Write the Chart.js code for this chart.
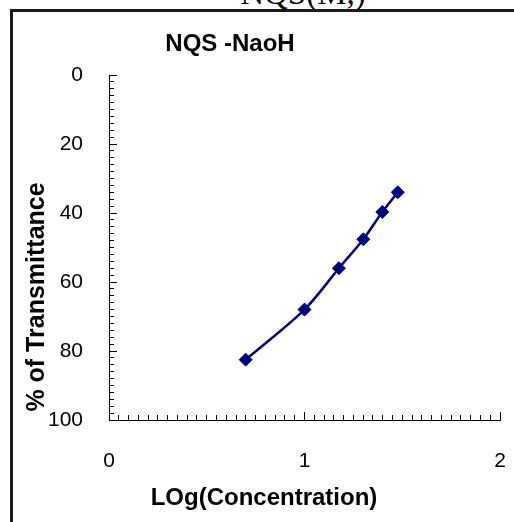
<!DOCTYPE html>
<html>
<head>
<meta charset="utf-8">
<title>NQS -NaoH</title>
<script src="https://cdn.jsdelivr.net/npm/chart.js@4.4.0/dist/chart.umd.min.js"></script>
<style>
  html, body { margin: 0; padding: 0; background: #fff; }
  #wrap { position: relative; width: 514px; height: 522px; overflow: hidden; }
  #frame {
    position: absolute; left: 10px; top: 9px; width: 700px; height: 700px;
    border-left: 3px solid #1b1b1b; border-top: 3px solid #1b1b1b;
  }
  #caption {
    position: absolute; left: 303px; top: -23px; transform: translateX(-50%);
    font: 33px/1 "Liberation Serif", "Times New Roman", serif; color: #000; white-space: nowrap;
  }
  canvas { position: absolute; left: 0; top: 0; }
</style>
</head>
<body>
<div id="wrap">
  <div id="caption">NQS(M,)</div>
  <div id="frame"></div>
  <canvas id="chart" width="514" height="522"></canvas>
</div>
<script>
// Calibration data: log of concentration vs. % transmittance
const logConcentration = [0.699, 1.0, 1.176, 1.301, 1.398, 1.477];
const transmittance    = [82.5, 68.0, 56.0, 47.6, 39.7, 34.0];

// Axis ranges and tick steps
const xRange = [0, 2];
const yRange = [0, 100];
const xMajorStep = 1,  xMinorStep = 0.05;
const yMajorStep = 20, yMinorStep = 2;

const chartTitle = 'NQS -NaoH';
const xTitle = 'LOg(Concentration)';
const yTitle = '% of Transmittance';

const SANS = '"Liberation Sans", Arial, Helvetica, sans-serif';
const INK = '#000000';
const SERIES = '#000080';

const points = logConcentration.map((x, i) => ({ x, y: transmittance[i] }));

// Fixes an axis box to a set thickness (and drops label overhang padding)
// so the plot area lands exactly inside the layout padding
const fixBox = (prop, size) => scale => {
  scale[prop] = size;
  scale.paddingLeft = 0; scale.paddingRight = 0;
  scale.paddingTop = 0; scale.paddingBottom = 0;
};

// Titles drawn relative to the plot area
const titleText = {
  id: 'titleText',
  afterDraw(chart) {
    const { ctx, chartArea: a } = chart;
    ctx.save();
    ctx.fillStyle = INK;
    ctx.textAlign = 'center';
    ctx.textBaseline = 'middle';
    ctx.font = 'bold 24px ' + SANS;
    ctx.fillText(chartTitle, a.left + 121, a.top - 31);
    ctx.fillText(xTitle, a.left + 155, a.bottom + 78);
    ctx.font = 'bold 25px ' + SANS;
    ctx.translate(a.left - 72, a.top + 222);
    ctx.rotate(-Math.PI / 2);
    ctx.fillText(yTitle, 0, 0);
    ctx.restore();
  }
};

const axisLine = { display: true, color: INK, width: 1 };

new Chart(document.getElementById('chart'), {
  type: 'scatter',
  data: {
    datasets: [{
      data: points,
      showLine: true,
      borderColor: SERIES,
      backgroundColor: SERIES,
      borderWidth: 2.5,
      tension: 0.3,
      pointStyle: 'rectRot',
      pointRadius: 6.5,
      pointHoverRadius: 6.5,
      pointBorderWidth: 1,
      pointBorderColor: SERIES,
      pointBackgroundColor: SERIES
    }]
  },
  options: {
    responsive: false,
    animation: false,
    devicePixelRatio: 1,
    layout: { padding: { top: 75, right: 14, left: 0, bottom: 0 } },
    plugins: { legend: { display: false }, tooltip: { enabled: false }, title: { display: false } },
    scales: {
      x: {
        type: 'linear', position: 'bottom', weight: 1,
        min: xRange[0], max: xRange[1],
        border: axisLine,
        grid: { drawOnChartArea: false, drawTicks: true, tickLength: -8, color: INK, lineWidth: 1 },
        ticks: { stepSize: xMajorStep, autoSkip: false, color: INK, padding: 37, font: { family: SANS, size: 21 } },
        afterFit: fixBox('height', 102)
      },
      xMinor: {
        type: 'linear', position: 'bottom', weight: 0,
        min: xRange[0], max: xRange[1],
        border: { display: false },
        grid: { drawOnChartArea: false, drawTicks: true, tickLength: -5, color: INK, lineWidth: 1 },
        ticks: { display: false, stepSize: xMinorStep, maxTicksLimit: 100, autoSkip: false },
        afterFit: fixBox('height', 0)
      },
      y: {
        type: 'linear', position: 'left', weight: 1, reverse: true,
        min: yRange[0], max: yRange[1],
        border: axisLine,
        grid: { drawOnChartArea: false, drawTicks: true, tickLength: -8, color: INK, lineWidth: 1 },
        ticks: { stepSize: yMajorStep, autoSkip: false, color: INK, padding: 34, font: { family: SANS, size: 21 } },
        afterFit: fixBox('width', 109)
      },
      yMinor: {
        type: 'linear', position: 'left', weight: 0, reverse: true,
        min: yRange[0], max: yRange[1],
        border: { display: false },
        grid: { drawOnChartArea: false, drawTicks: true, tickLength: -5, color: INK, lineWidth: 1 },
        ticks: { display: false, stepSize: yMinorStep, maxTicksLimit: 100, autoSkip: false },
        afterFit: fixBox('width', 0)
      }
    }
  },
  plugins: [titleText]
});
</script>
</body>
</html>
